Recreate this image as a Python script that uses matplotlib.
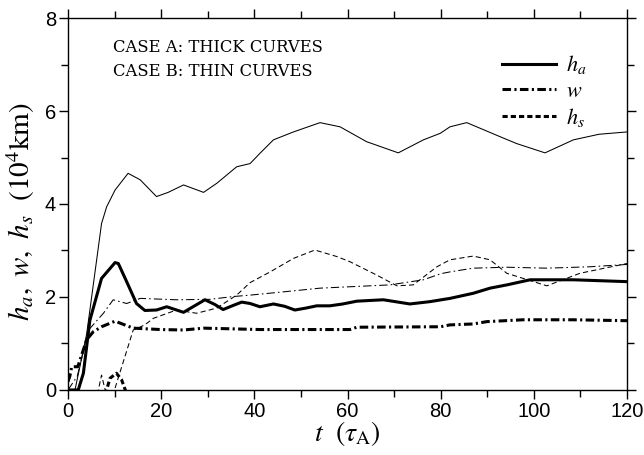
import matplotlib
matplotlib.use("Agg")
import matplotlib.pyplot as plt
from matplotlib.lines import Line2D
from matplotlib.ticker import MultipleLocator

plt.rcParams["mathtext.fontset"] = "stix"
plt.rcParams["font.family"] = "Liberation Sans"

# case A (thick curves)
t_ha_a = [0, 2.2, 3.3, 4.7, 7.2, 10.1, 10.8, 12.5, 14.7, 16.5, 19, 21.2, 24.8, 27, 29.4, 31.5, 33.3, 35.5,
          37.3, 39.1, 41.2, 44.1, 46.5, 48.7, 51, 53.4, 56.2, 59, 62, 67.7, 73.4, 77.7, 82, 87, 90.6,
          94.2, 99.2, 108.5, 120]
v_ha_a = [0, 0, 0.36, 1.5, 2.4, 2.74, 2.72, 2.35, 1.86, 1.71, 1.72, 1.79, 1.67, 1.8, 1.94, 1.84, 1.73, 1.82,
          1.89, 1.86, 1.79, 1.85, 1.8, 1.72, 1.76, 1.81, 1.81, 1.85, 1.91, 1.94, 1.85, 1.9, 1.97, 2.08, 2.19,
          2.26, 2.37, 2.37, 2.33]

t_w_a = [0, 0.4, 0.8, 2.1, 4, 5.4, 7.2, 10.1, 14, 19.8, 24.8, 29.1, 41.2, 50, 60.5, 62, 80, 82, 87, 89.9,
         97.7, 108.5, 120]
v_w_a = [0.18, 0.3, 0.5, 0.5, 1.08, 1.25, 1.36, 1.48, 1.33, 1.3, 1.29, 1.33, 1.3, 1.3, 1.3, 1.35, 1.36,
         1.4, 1.42, 1.47, 1.51, 1.51, 1.49]

t_hs_a = [8, 9, 10.4, 11.5, 12.3, 12.8]
v_hs_a = [-0.1, 0.25, 0.36, 0.22, 0.0, -0.15]

# case B (thin curves)
t_ha_b = [0, 1.5, 4, 7.2, 8.3, 10.1, 12.9, 15.5, 19, 21.5, 24.8, 29.1, 32, 36.2, 39.1, 41.2, 44.1, 48.4,
          54.1, 58.4, 64.1, 70.9, 76.3, 79.9, 82, 85.6, 92.7, 96.3, 102.4, 108.5, 114, 120]
v_ha_b = [0, 0, 1.2, 3.58, 3.94, 4.3, 4.66, 4.52, 4.16, 4.25, 4.41, 4.25, 4.45, 4.8, 4.87, 5.09, 5.38, 5.55,
          5.75, 5.66, 5.34, 5.1, 5.38, 5.52, 5.66, 5.75, 5.45, 5.3, 5.1, 5.38, 5.5, 5.55]

t_w_b = [0, 2, 4.4, 7.6, 9.7, 12.6, 15.5, 23.3, 30.5, 35.5, 39.1, 46.2, 54.1, 60.5, 69.1, 76.3, 80, 82,
         87, 94.2, 102.8, 112.1, 120]
v_w_b = [0, 0.3, 1.29, 1.65, 1.94, 1.86, 1.97, 1.94, 1.95, 2.01, 2.04, 2.11, 2.19, 2.22, 2.26, 2.37, 2.5,
         2.54, 2.62, 2.64, 2.62, 2.65, 2.7]

t_hs_b = [6.3, 7.2, 8.1, 9.2, 10.1, 14, 16.5, 18.3, 23.3, 27.6, 31.9, 36.2, 39.1, 43.4, 48.4, 53, 57.7,
          60.5, 66.3, 70.6, 74.1, 79.2, 82, 87, 90.6, 94.2, 102.8, 109.9, 120]
v_hs_b = [-0.1, 0.32, -0.05, -0.2, 0.04, 1.29, 1.4, 1.54, 1.72, 1.65, 1.76, 2.04, 2.31, 2.54, 2.83, 3.01,
          2.87, 2.76, 2.47, 2.24, 2.26, 2.65, 2.8, 2.88, 2.8, 2.51, 2.24, 2.51, 2.72]

legend_labels = [r"$h_a$", r"$w$", r"$h_s$"]

fig = plt.figure(figsize=(6.44, 4.55), dpi=100)
ax = fig.add_axes([0.1056, 0.1429, 0.868, 0.8175])

thick = 2.2
thin = 0.75
dashdot_thick = (0, (2.8, 1.1, 0.7, 1.1))
dashed_thick = (0, (1.7, 1.0))
dashdot_thin = (0, (8, 3, 1.5, 3))
dashed_thin = (0, (5, 3))

ax.plot(t_ha_b, v_ha_b, color="black", lw=thin, ls="-")
ax.plot(t_w_b, v_w_b, color="black", lw=thin, ls=dashdot_thin)
ax.plot(t_hs_b, v_hs_b, color="black", lw=thin, ls=dashed_thin)
ax.plot(t_ha_a, v_ha_a, color="black", lw=thick, ls="-")
ax.plot(t_w_a, v_w_a, color="black", lw=thick, ls=dashdot_thick)
ax.plot(t_hs_a, v_hs_a, color="black", lw=thick, ls=dashed_thick)

ax.set_xlim(0, 120)
ax.set_ylim(0, 8)
ax.xaxis.set_major_locator(MultipleLocator(20))
ax.xaxis.set_minor_locator(MultipleLocator(10))
ax.yaxis.set_major_locator(MultipleLocator(2))
ax.yaxis.set_minor_locator(MultipleLocator(1))
ax.tick_params(which="both", direction="out", top=True, right=True, width=1.0,
               labelsize=14.5, pad=2)
ax.tick_params(which="major", length=6.5)
ax.tick_params(which="minor", length=5)
for s in ax.spines.values():
    s.set_linewidth(1.0)

ax.set_xlabel(r"$t\ \ (\tau_{\rm A})$", fontsize=20, labelpad=-1)
ax.set_ylabel(r"$h_a,\ w,\ h_s\ \ (10^4{\rm km})$", fontsize=21)
ax.yaxis.set_label_coords(-0.056, 0.478)

ax.text(0.08, 0.92, "CASE A: THICK CURVES", transform=ax.transAxes, family="DejaVu Serif",
        fontsize=11.8, va="center")
ax.text(0.08, 0.855, "CASE B: THIN CURVES", transform=ax.transAxes, family="DejaVu Serif",
        fontsize=11.8, va="center")

handles = [Line2D([], [], color="black", lw=thick, ls="-"),
           Line2D([], [], color="black", lw=thick, ls=dashdot_thick),
           Line2D([], [], color="black", lw=thick, ls=dashed_thick)]
ax.legend(handles, legend_labels, loc="upper left", bbox_to_anchor=(0.756, 0.935), frameon=False,
          fontsize=16, handlelength=2.45, handletextpad=0.45, labelspacing=0.2, borderpad=0)

fig.savefig("out.png", dpi=100)
